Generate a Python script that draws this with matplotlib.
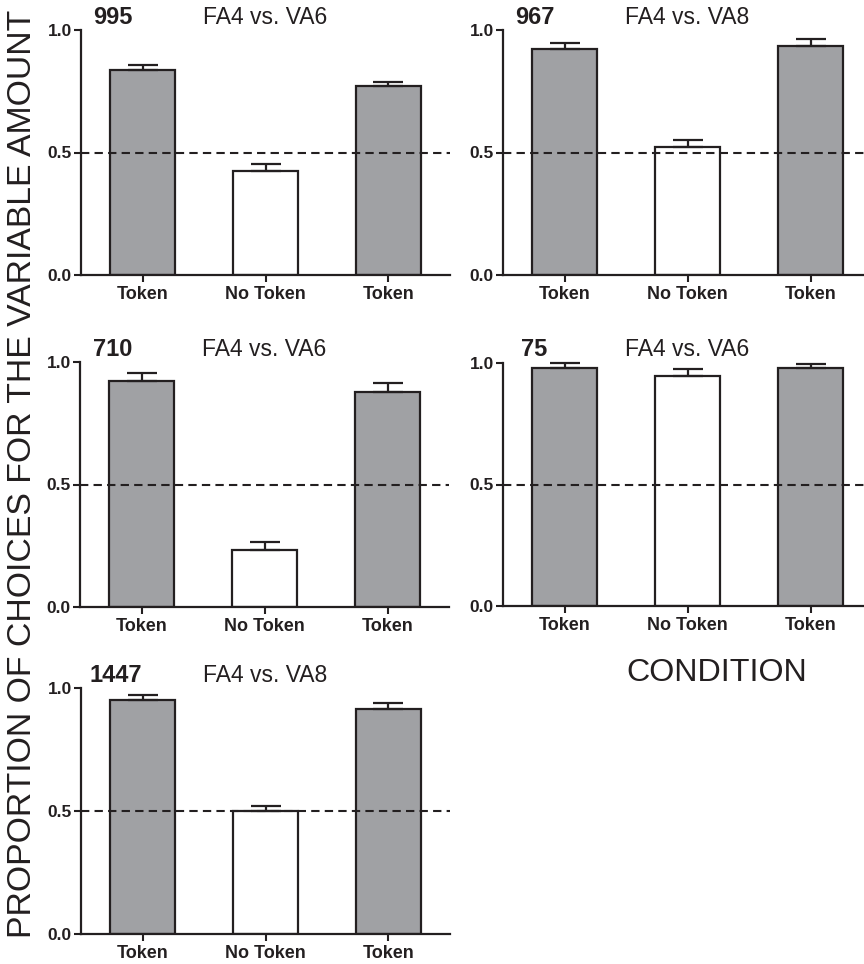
import matplotlib
matplotlib.use("Agg")
from matplotlib import pyplot as plt

plt.rcParams['font.family'] = ['Liberation Sans', 'DejaVu Sans']

# categories on the x axis
conditions = ["Token", "No Token", "Token"]

# subject ids and comparison per panel
subjects = ["995", "967", "710", "75", "1447"]
comparisons = ["FA4 vs. VA6", "FA4 vs. VA8", "FA4 vs. VA6", "FA4 vs. VA6", "FA4 vs. VA8"]

# proportion of choices for the variable amount (mean) and upper error
means_995 = [0.836, 0.423, 0.772]
sem_995 = [0.021, 0.029, 0.017]
means_967 = [0.924, 0.524, 0.936]
sem_967 = [0.022, 0.028, 0.026]
means_710 = [0.921, 0.233, 0.878]
sem_710 = [0.036, 0.032, 0.036]
means_75 = [0.979, 0.947, 0.979]
sem_75 = [0.022, 0.028, 0.016]
means_1447 = [0.953, 0.501, 0.916]
sem_1447 = [0.020, 0.021, 0.024]

yticks = [0.0, 0.5, 1.0]
ytick_labels = ["0.0", "0.5", "1.0"]

all_means = [means_995, means_967, means_710, means_75, means_1447]
all_sem = [sem_995, sem_967, sem_710, sem_75, sem_1447]

dark = "#231f20"
gray = "#a0a1a4"
fills = [gray, "white", gray]

W, H = 864, 964
fig = plt.figure(figsize=(W / 100, H / 100), dpi=100)

# panel placement in pixels: (left, y of 1.0, y of 0.0)
boxes = [(81, 30, 275), (503, 30, 275), (80, 362, 607), (503, 363, 606), (81, 688, 934)]
label_x = [0.033, 0.033, 0.035, 0.05, 0.024]
axw = 369

for i, (left, top, bot) in enumerate(boxes):
    ax = fig.add_axes([left / W, (H - bot) / H, axw / W, (bot - top) / H])
    x = range(len(conditions))
    ax.bar(x, all_means[i], width=0.53, color=fills, edgecolor=dark, linewidth=1.6, zorder=2)
    ax.errorbar(x, all_means[i], yerr=[[0] * 3, all_sem[i]], fmt='none', ecolor=dark,
                elinewidth=1.6, capsize=10.8, capthick=1.6, zorder=3, clip_on=False)
    ax.axhline(0.5, color=dark, lw=1.5, ls=(0, (4, 2.5)), zorder=4)
    ax.set_xlim(-0.5, 2.5)
    ax.set_ylim(0, 1.0)
    ax.set_xticks(list(x))
    ax.set_xticklabels(conditions, fontsize=13, fontweight='bold', color=dark)
    ax.set_yticks(yticks)
    ax.set_yticklabels(ytick_labels, fontsize=12.5, fontweight='bold', color=dark)
    ax.tick_params(axis='both', direction='out', length=5, width=1.5, color=dark)
    ax.tick_params(axis='y', pad=1.5)
    ax.tick_params(axis='x', pad=3)
    for s in ['top', 'right']:
        ax.spines[s].set_visible(False)
    for s in ['left', 'bottom']:
        ax.spines[s].set_linewidth(1.6)
        ax.spines[s].set_color(dark)
    off = 1 + 6.5 / (bot - top)
    ax.text(label_x[i], off, subjects[i], transform=ax.transAxes, fontsize=17,
            fontweight='bold', color=dark, va='baseline', ha='left')
    ax.text(0.5, off, comparisons[i], transform=ax.transAxes, fontsize=16.5,
            color=dark, va='baseline', ha='center')

fig.text(0.026, 0.508, "PROPORTION OF CHOICES FOR THE VARIABLE AMOUNT", rotation=90,
         fontsize=24.3, color=dark, ha='center', va='center')
fig.text(0.830, 0.302, "CONDITION", fontsize=23.2, color=dark, ha='center', va='center')

fig.savefig("out.png", dpi=100)
